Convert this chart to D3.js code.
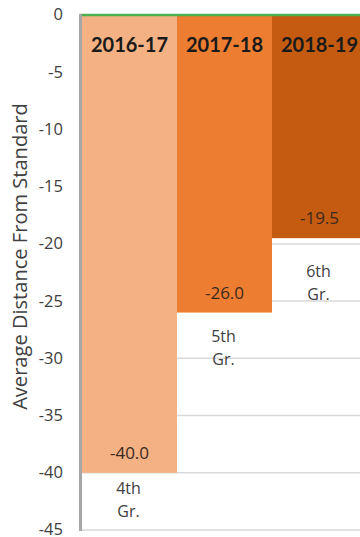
<!DOCTYPE html>
<html>
<head>
<meta charset="utf-8">
<script src="https://cdn.jsdelivr.net/npm/d3@7"></script>
<style>
  html, body { margin: 0; padding: 0; background: #fff; overflow: hidden; }
  svg { display: block; }
</style>
</head>
<body>
<svg id="chart" width="360" height="537"></svg>
<script>
// School years, their average distance from standard, and the grade tested
const years = ["2016-17", "2017-18", "2018-19"];
const values = [-40.0, -26.0, -19.5];
const grades = ["4th", "5th", "6th"];
const yTicks = [0, -5, -10, -15, -20, -25, -30, -35, -40, -45];

const colors = ["#F4B183", "#ED7D31", "#C55A11"];
// where the two-line grade note sits, in axis units
const gradeNoteAt = [-42.4, -29.1, -23.4];

// plain hyphen-minus, as typed in spreadsheets
const fmtInt = d => String(d);
const fmtOne = d => d.toFixed(1);

const svg = d3.select("#chart");

const x = d3.scaleBand().domain(years).range([82, 367]).padding(0);
const y = d3.scaleLinear().domain([0, -45]).range([15, 530]);

const plotRight = 360;

// horizontal gridlines
svg.append("g")
  .selectAll("line")
  .data(yTicks.filter(d => d !== 0))
  .join("line")
  .attr("x1", 82).attr("x2", plotRight)
  .attr("y1", d => y(d)).attr("y2", d => y(d))
  .attr("stroke", "#d9d9d9").attr("stroke-width", 1.5);

// bars hanging down from zero
svg.append("g")
  .selectAll("rect")
  .data(years)
  .join("rect")
  .attr("x", d => x(d))
  .attr("width", x.bandwidth())
  .attr("y", y(0))
  .attr("height", (d, i) => y(values[i]) - y(0))
  .attr("fill", (d, i) => colors[i]);

// zero line
svg.append("line")
  .attr("x1", 80).attr("x2", plotRight)
  .attr("y1", y(0)).attr("y2", y(0))
  .attr("stroke", "#4CAF50").attr("stroke-width", 2.5);

// y axis
const yAxis = d3.axisLeft(y).tickValues(yTicks).tickSize(0).tickPadding(0)
  .tickFormat(fmtInt);
const gy = svg.append("g").attr("transform", "translate(63,0)").call(yAxis);
gy.select(".domain").remove();
gy.selectAll("text")
  .attr("font-family", "'Open Sans', sans-serif")
  .attr("font-size", 16.5)
  .attr("fill", "#404040")
  .attr("dy", "0.3em");

svg.append("line")
  .attr("x1", 80.5).attr("x2", 80.5)
  .attr("y1", y(0) - 1).attr("y2", y(-45) + 1)
  .attr("stroke", "#a6a6a6").attr("stroke-width", 3);

// y axis title, sized to run the full height of the axis
const title = svg.append("text")
  .attr("transform", `translate(27,${(103 + 410) / 2}) rotate(-90)`)
  .attr("text-anchor", "middle")
  .attr("font-family", "'Open Sans', sans-serif")
  .attr("font-size", 17.5)
  .attr("fill", "#404040")
  .text("Average Distance From Standard");
const tLen = title.node().getComputedTextLength();
title.attr("font-size", 17.5 * 307 / tLen);

// year labels at the top of each bar
svg.append("g")
  .selectAll("text")
  .data(years)
  .join("text")
  .attr("x", d => x(d) + x.bandwidth() / 2)
  .attr("y", 52)
  .attr("text-anchor", "middle")
  .attr("font-family", "Lato, sans-serif")
  .attr("font-weight", "bold")
  .attr("font-size", 20)
  .attr("fill", "#1a1a1a")
  .text(d => d);

// value labels near the bottom of each bar
svg.append("g")
  .selectAll("text")
  .data(years)
  .join("text")
  .attr("x", d => x(d) + x.bandwidth() / 2)
  .attr("y", (d, i) => y(values[i]) - 14)
  .attr("text-anchor", "middle")
  .attr("font-family", "'Open Sans', sans-serif")
  .attr("font-size", 17)
  .attr("fill", "#3a2a1e")
  .text((d, i) => fmtOne(values[i]));

// grade notes below each bar
const notes = svg.append("g")
  .selectAll("text")
  .data(years)
  .join("text")
  .attr("text-anchor", "middle")
  .attr("font-family", "'Open Sans', sans-serif")
  .attr("font-size", 16)
  .attr("fill", "#404040");
notes.append("tspan")
  .attr("x", d => x(d) + x.bandwidth() / 2 - 1)
  .attr("y", (d, i) => y(gradeNoteAt[i]) - 6)
  .text((d, i) => grades[i]);
notes.append("tspan")
  .attr("x", d => x(d) + x.bandwidth() / 2 - 1)
  .attr("y", (d, i) => y(gradeNoteAt[i]) + 17)
  .text("Gr.");
</script>
</body>
</html>
